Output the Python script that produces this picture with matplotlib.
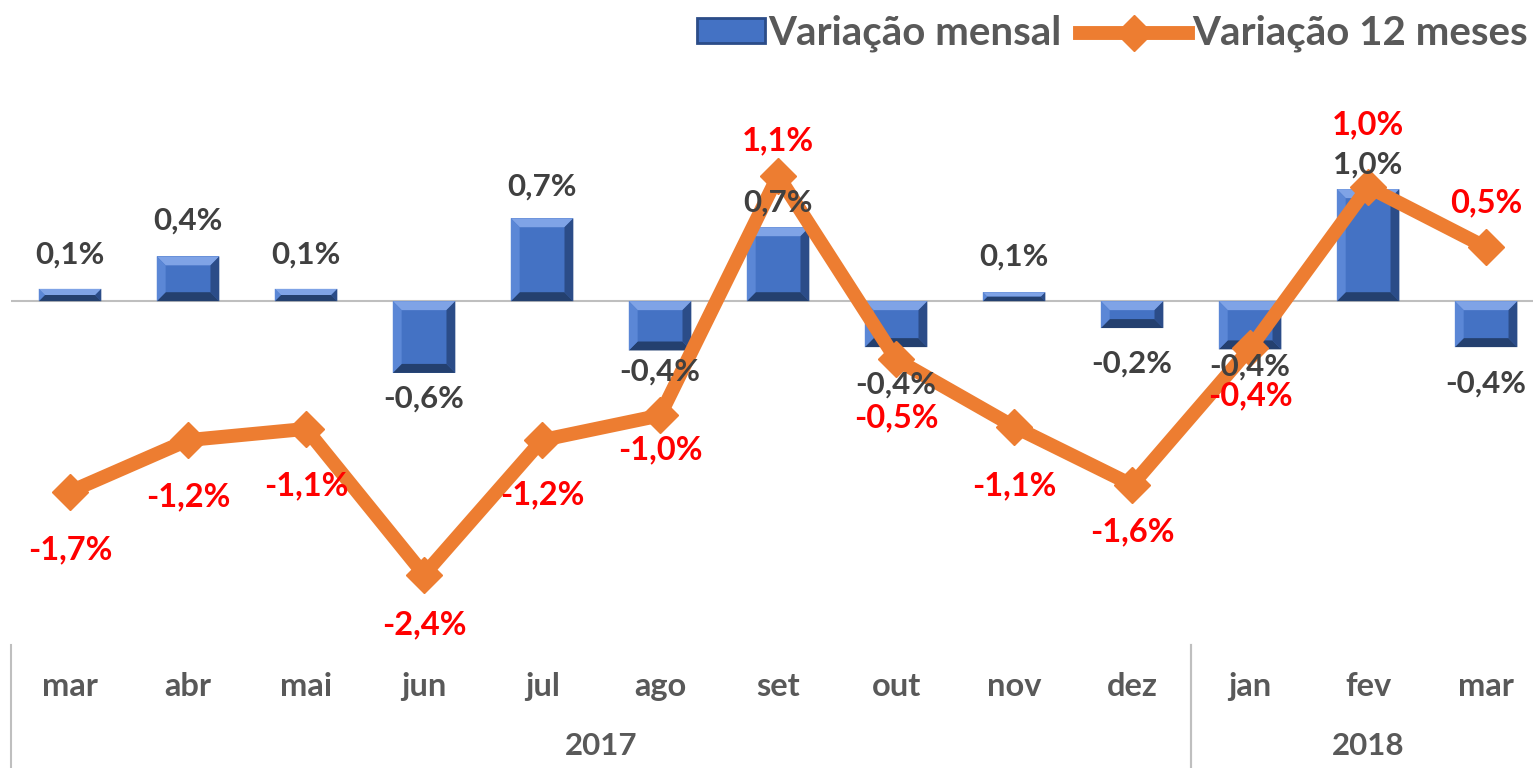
import matplotlib
matplotlib.use("Agg")
import matplotlib.pyplot as plt
from matplotlib.patches import Polygon, Rectangle
from matplotlib.lines import Line2D
import matplotlib.transforms as mtransforms

plt.rcParams["font.family"] = ["Lato", "DejaVu Sans"]

months = ["mar", "abr", "mai", "jun", "jul", "ago", "set", "out", "nov", "dez", "jan", "fev", "mar"]
years = ["2017", "2018"]
year_spans = [(0, 9), (10, 12)]
monthly = [0.11, 0.40, 0.11, -0.64, 0.74, -0.44, 0.66, -0.41, 0.08, -0.24, -0.43, 1.00, -0.41]
yearly = [-1.70, -1.24, -1.14, -2.44, -1.24, -1.02, 1.12, -0.52, -1.12, -1.64, -0.42, 1.02, 0.48]

# label offsets in pixels (distance from bar end / marker), tuned by eye
bar_lbl_px = [34, 36, 34, 26, 32, 21, 25, 37, 36, 36, 17, 25, 36]
line_lbl_px = [-58, -57, -57, -50, -55, -34, 35, -58, -59, -47, -48, 62, 45]

BLUE = "#4472C4"
ORANGE = "#ED7D31"
GRAY_TXT = "#404040"
AXIS_TXT = "#595959"


def fmt(v):
    return f"{v:.1f}%".replace(".", ",")


def bevel(ax, bar, bx=0.075, by=0.08):
    x0, w = bar.get_x(), bar.get_width()
    y_lo = min(bar.get_y(), bar.get_y() + bar.get_height())
    y_hi = max(bar.get_y(), bar.get_y() + bar.get_height())
    x1 = x0 + w
    b = min(by, (y_hi - y_lo) / 2)
    bxx = bx * b / by
    ix0, ix1, iy0, iy1 = x0 + bxx, x1 - bxx, y_lo + b, y_hi - b
    parts = [
        ([(x0, y_hi), (x1, y_hi), (ix1, iy1), (ix0, iy1)], "#7FA3E6"),
        ([(x0, y_lo), (x1, y_lo), (ix1, iy0), (ix0, iy0)], "#24406F"),
        ([(x0, y_lo), (x0, y_hi), (ix0, iy1), (ix0, iy0)], "#5B87D6"),
        ([(x1, y_lo), (x1, y_hi), (ix1, iy1), (ix1, iy0)], "#2B4C88"),
    ]
    for pts, c in parts:
        ax.add_patch(Polygon(pts, closed=True, facecolor=c, edgecolor="none", zorder=3))


fig = plt.figure(figsize=(15.33, 7.68), dpi=100)
ax = fig.add_axes([0.0072, 0.160, 1.0007, 0.7396])

x = list(range(len(months)))
bars = ax.bar(x, monthly, width=0.53, color=BLUE, zorder=2)
for b in bars:
    bevel(ax, b)

ax.axhline(0, color="#BFBFBF", lw=1.5, zorder=1)

ax.plot(x, yearly, color=ORANGE, lw=10, marker="D", markersize=18,
        solid_joinstyle="miter", zorder=4)

px2pt = 0.72
for xi, v, o in zip(x, monthly, bar_lbl_px):
    off = o if v >= 0 else -o
    ax.annotate(fmt(v), (xi, v), xytext=(0, off * px2pt), textcoords="offset points",
                ha="center", va="center", fontsize=22.5, fontweight="bold",
                color=GRAY_TXT, zorder=5)

for xi, v, o in zip(x, yearly, line_lbl_px):
    ax.annotate(fmt(v), (xi, v), xytext=(0, o * px2pt), textcoords="offset points",
                ha="center", va="center", fontsize=23.5, fontweight="bold",
                color="red", zorder=6)

ax.set_xlim(-0.5, len(months) - 0.5)
ax.set_ylim(-3.07, 2.0)
ax.axis("off")

# category axis (months + years)
trans = mtransforms.blended_transform_factory(ax.transData, ax.transAxes)
for xi, m in zip(x, months):
    ax.text(xi, -0.073, m, transform=trans, ha="center", va="center",
            fontsize=23.5, fontweight="bold", color=AXIS_TXT)
for (a, b), yr in zip(year_spans, years):
    ax.text((a + b) / 2, -0.178, yr, transform=trans, ha="center", va="center",
            fontsize=22.5, fontweight="bold", color=AXIS_TXT)
    for edge in (a - 0.5, b + 0.5):
        ax.add_line(Line2D([edge, edge], [0, -0.3], transform=trans,
                           color="#BFBFBF", lw=1.5, clip_on=False))

# legend
fig.patches.append(Rectangle((0.4547, 0.944), 0.0444, 0.0326, transform=fig.transFigure,
                             facecolor=BLUE, edgecolor="#2B4C88", lw=2))
fig.text(0.501, 0.957, "Variação mensal", ha="left", va="center",
         fontsize=29, fontweight="bold", color=AXIS_TXT)
fig.lines.append(Line2D([0.7045, 0.775], [0.957, 0.957], transform=fig.transFigure,
                        color=ORANGE, lw=10))
fig.lines.append(Line2D([0.7398], [0.957], transform=fig.transFigure,
                        color=ORANGE, marker="D", markersize=18))
fig.text(0.7776, 0.957, "Variação 12 meses", ha="left", va="center",
         fontsize=29, fontweight="bold", color=AXIS_TXT)

fig.savefig("out.png", dpi=100)
